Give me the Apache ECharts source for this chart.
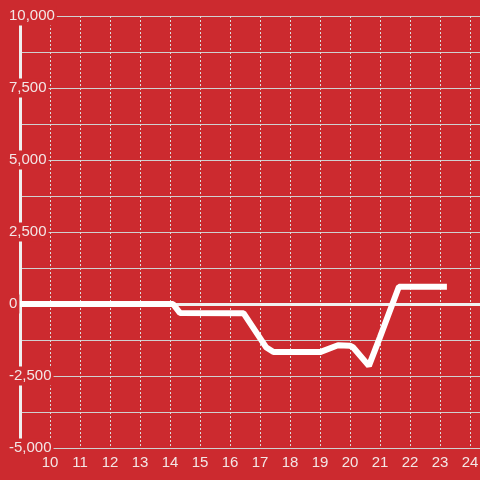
<!DOCTYPE html>
<html>
<head>
<meta charset="utf-8">
<style>
html,body{margin:0;padding:0;background:#cc2a2f;}
#chart{width:480px;height:480px;}
</style>
<script src="https://cdn.jsdelivr.net/npm/echarts@6/dist/echarts.min.js"></script>
</head>
<body>
<div id="chart"></div>
<script>
// Data
const xValues = [9, 14.1, 14.33, 16.45, 17.2, 17.45, 19.0, 19.6, 20.0, 20.1, 20.63, 21.0, 21.63, 23.23];
const yValues = [0, 0, -310, -320, -1500, -1670, -1670, -1430, -1450, -1500, -2150, -1150, 600, 600];
const xTickLabels = [10, 11, 12, 13, 14, 15, 16, 17, 18, 19, 20, 21, 22, 23, 24];
const yTickLabels = [-5000, -2500, 0, 2500, 5000, 7500, 10000];

const chart = echarts.init(document.getElementById('chart'));
const seriesData = xValues.map((x, i) => [x, yValues[i]]);
const font = 'Liberation Sans, Arial, sans-serif';

chart.setOption({
  backgroundColor: '#cc2a2f',
  animation: false,
  grid: { left: 20, width: 470, top: 16, bottom: 32, containLabel: false, outerBoundsMode: 'none' },
  xAxis: {
    type: 'value',
    min: 9,
    max: 24 + 2/3,
    interval: 1,
    axisLine: { show: false },
    axisTick: { show: false },
    axisLabel: {
      color: '#f3e6e6',
      fontSize: 15,
      fontFamily: font,
      margin: 7,
      formatter: v => (xTickLabels.indexOf(v) >= 0 ? String(v) : '')
    },
    splitLine: { show: true, lineStyle: { color: '#dcdcdc', type: [2, 2], width: 1 } }
  },
  yAxis: {
    type: 'value',
    min: yTickLabels[0],
    max: yTickLabels[yTickLabels.length - 1],
    interval: 2500,
    axisLine: { show: true, lineStyle: { color: '#f0f0f0', width: 3 } },
    axisTick: { show: false },
    axisLabel: {
      color: '#f3e6e6',
      fontSize: 15,
      fontFamily: font,
      align: 'left',
      margin: 11,
      backgroundColor: '#cc2a2f',
      padding: [1, 2, 3, 0],
      formatter: v => v.toLocaleString('en-US')
    },
    splitLine: { show: true, lineStyle: { color: '#d0d0d0', width: 1 } },
    minorTick: { show: false, splitNumber: 2 },
    minorSplitLine: { show: true, lineStyle: { color: '#d0d0d0', width: 1 } }
  },
  series: [{
    type: 'line',
    data: seriesData,
    showSymbol: false,
    symbol: 'none',
    lineStyle: { color: '#ffffff', width: 6 },
    z: 5,
    markLine: {
      silent: true,
      symbol: 'none',
      label: { show: false },
      lineStyle: { color: '#f0f0f0', width: 3, type: 'solid' },
      data: [{ yAxis: 0 }],
      z: 4
    }
  }]
});
</script>
</body>
</html>
